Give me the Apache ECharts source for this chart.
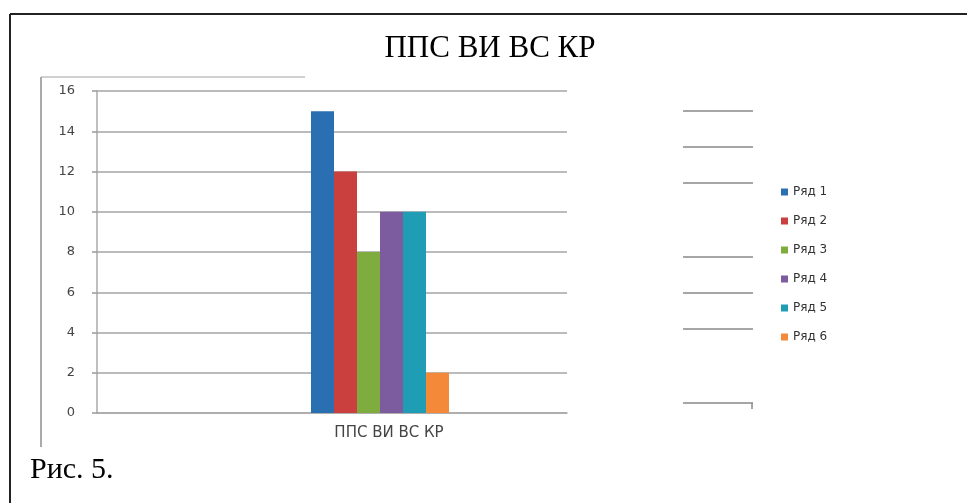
<!DOCTYPE html>
<html>
<head>
<meta charset="utf-8">
<script src="https://cdn.jsdelivr.net/npm/echarts@6/dist/echarts.min.js"></script>
<style>html,body{margin:0;padding:0;background:#fff}#c{width:967px;height:503px}</style>
</head>
<body>
<div id="c"></div>
<script>
var categories = ['ППС ВИ ВС КР'];
var seriesNames = ['Ряд 1', 'Ряд 2', 'Ряд 3', 'Ряд 4', 'Ряд 5', 'Ряд 6'];
var seriesValues = [[15], [12], [8], [10], [10], [2]];
var yTicks = { min: 0, max: 16, interval: 2 };
var titleText = 'ППС ВИ ВС КР';
var captionText = 'Рис. 5.';
var colors = ['#2a6fb1', '#c9403f', '#7eac3f', '#7d5b9f', '#1f9db4', '#f5893a'];

var chart = echarts.init(document.getElementById('c'));

var series = seriesNames.map(function (n, i) {
  return {
    name: n, type: 'bar', xAxisIndex: 1, yAxisIndex: 1,
    data: seriesValues[i], barWidth: 23, barGap: '0%',
    itemStyle: { color: colors[i] }
  };
});

// decorative fragments visible in the scan
var frag = [111, 147, 183, 257, 293, 329, 403].map(function (y) {
  return { type: 'line', shape: { x1: 683, y1: y, x2: 753, y2: y }, style: { stroke: '#888', lineWidth: 1.5 } };
});
frag.push({ type: 'line', shape: { x1: 752, y1: 403, x2: 752, y2: 409 }, style: { stroke: '#888', lineWidth: 1.5 } });

chart.setOption({
  animation: false,
  backgroundColor: '#fff',
  color: colors,
  title: {
    text: titleText, left: 485, top: 28, textAlign: 'center',
    textStyle: { fontFamily: 'Liberation Serif', fontSize: 31, fontWeight: 'normal', color: '#000' }
  },
  legend: {
    orient: 'vertical', left: 776, top: 180,
    itemWidth: 7, itemHeight: 7, itemGap: 15,
    icon: 'rect',
    textStyle: { fontFamily: 'DejaVu Sans', fontSize: 12, color: '#333', lineHeight: 14 },
    data: seriesNames
  },
  grid: [
    { left: 97, right: 400, top: 91, bottom: 90 },
    { left: 250, right: 457, top: 91, bottom: 90 }
  ],
  xAxis: [
    { gridIndex: 0, type: 'category', data: categories,
      axisLine: { lineStyle: { color: '#aaa', width: 1.5 } },
      axisTick: { show: false }, axisLabel: { show: false } },
    { gridIndex: 1, type: 'category', data: categories,
      axisLine: { show: false }, axisTick: { show: false },
      axisLabel: { margin: 13, padding: [0, 0, 0, 18], fontFamily: 'DejaVu Sans', fontSize: 15, color: '#444' } }
  ],
  yAxis: [
    { gridIndex: 0, type: 'value', min: yTicks.min, max: yTicks.max, interval: yTicks.interval,
      axisLine: { show: true, lineStyle: { color: '#aaa', width: 1.5 } },
      axisTick: { show: true, length: 5, lineStyle: { color: '#999', width: 1.5 } },
      splitLine: { lineStyle: { color: '#a4a4a4', width: 1.5 } },
      axisLabel: { margin: 22, fontFamily: 'DejaVu Sans', fontSize: 13, color: '#444' } },
    { gridIndex: 1, type: 'value', min: yTicks.min, max: yTicks.max, interval: yTicks.interval,
      show: false, splitLine: { show: false } }
  ],
  series: series,
  graphic: [
    { type: 'line', shape: { x1: 10, y1: 14, x2: 967, y2: 14 }, style: { stroke: '#222', lineWidth: 2 } },
    { type: 'line', shape: { x1: 10, y1: 14, x2: 10, y2: 503 }, style: { stroke: '#222', lineWidth: 2 } },
    { type: 'line', shape: { x1: 41, y1: 77, x2: 305, y2: 77 }, style: { stroke: '#d0d0d0', lineWidth: 2 } },
    { type: 'line', shape: { x1: 41, y1: 77, x2: 41, y2: 447 }, style: { stroke: '#aaa', lineWidth: 2 } },
    { type: 'text', left: 30, top: 455, style: { text: captionText, font: '30px "Liberation Serif"', fill: '#000' } }
  ].concat(frag)
});
</script>
</body>
</html>
